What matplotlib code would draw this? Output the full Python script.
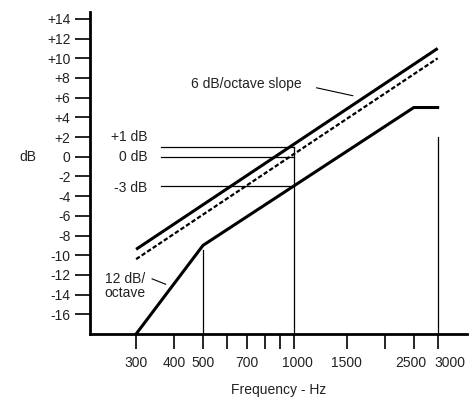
import matplotlib
matplotlib.use("Agg")
import matplotlib.pyplot as plt
from matplotlib.transforms import ScaledTranslation

plt.rcParams["font.family"] = ["Liberation Sans", "DejaVu Sans"]
plt.rcParams["font.size"] = 10

# response curves (Hz, dB)
freq_ends = [300, 3000]
slope_solid = [-9.4, 11.0]
slope_dashed = [-10.4, 10.0]
filt_freq = [300, 500, 2500, 3000]
filt_db = [-18, -9, 5, 5]

# reference levels at 1 kHz
ref_levels = [1, 0, -3]
ref_labels = ["+1 dB", "0 dB", "-3 dB"]
ref_label_y = [2.0, 0.0, -3.2]
ref_start = 362
ref_freq = 1000

# vertical markers (freq, top dB)
mark_freq = [500, 1000, 3000]
mark_top = [-9.5, 1, 2]

xticks = [300, 400, 500, 600, 700, 800, 900, 1000, 1500, 2000, 2500, 3000]
xtick_labels = ["300", "400", "500", "", "700", "", "", "1000", "1500", "", "2500", "3000"]
yticks = list(range(-16, 15, 2))
ytick_labels = [("+%d" % v if v > 0 else "%d" % v) for v in yticks]

fig = plt.figure(figsize=(4.72, 4.08), dpi=100)
ax = fig.add_axes([90 / 472, 1 - 334 / 408, 377 / 472, 322 / 408])
ax.set_xscale("log")
ax.set_xlim(211, 3753)
ax.set_ylim(-18, 14.7)

ax.plot(freq_ends, slope_solid, color="black", lw=2.2, solid_capstyle="butt")
ax.plot(freq_ends, slope_dashed, color="black", lw=1.6, ls=(0, (2.0, 1.0)))
ax.plot(filt_freq, filt_db, color="black", lw=2.2, solid_joinstyle="miter")

for lvl, lab, ly in zip(ref_levels, ref_labels, ref_label_y):
    ax.plot([ref_start, ref_freq], [lvl, lvl], color="black", lw=0.9)
    ax.text(327, ly, lab, ha="right", va="center", fontsize=10, color="#222222")

for f, top in zip(mark_freq, mark_top):
    ax.plot([f, f], [-18, top], color="black", lw=0.9)

# annotations
ax.text(455, 7.4, "6 dB/octave slope", ha="left", va="center", fontsize=10, color="#222222")
ax.plot([1191, 1569], [7.0, 6.2], color="black", lw=0.8)
ax.text(236, -13.1, "12 dB/\noctave", ha="left", va="center", fontsize=10,
        linespacing=1.0, color="#222222")
ax.plot([339, 376], [-12.4, -12.95], color="black", lw=0.8)

ax.spines["top"].set_visible(False)
ax.spines["right"].set_visible(False)
ax.spines["left"].set_linewidth(2)
ax.spines["bottom"].set_linewidth(2)

ax.set_xticks(xticks)
ax.set_xticklabels(xtick_labels)
ax.xaxis.set_minor_locator(matplotlib.ticker.NullLocator())
ax.set_yticks(yticks)
ax.set_yticklabels(ytick_labels)
ax.tick_params(axis="both", direction="out", length=11, width=1.2, labelsize=10,
               labelcolor="#222222")
ax.tick_params(axis="x", pad=5)
ax.tick_params(axis="y", pad=3)

# nudge the crowded labels at the right end apart
shifts = {"2500": -3, "3000": 12, "1000": 4}
for lbl in ax.get_xticklabels():
    dx = shifts.get(lbl.get_text(), 0)
    if dx:
        lbl.set_transform(lbl.get_transform() + ScaledTranslation(dx / 100, 0, fig.dpi_scale_trans))

ax.set_xlabel("Frequency - Hz", fontsize=10, labelpad=9, color="#222222")
fig.text(28 / 472, 1 - 157 / 408, "dB", ha="center", va="center", fontsize=10, color="#222222")

fig.savefig("out.png", dpi=100)
